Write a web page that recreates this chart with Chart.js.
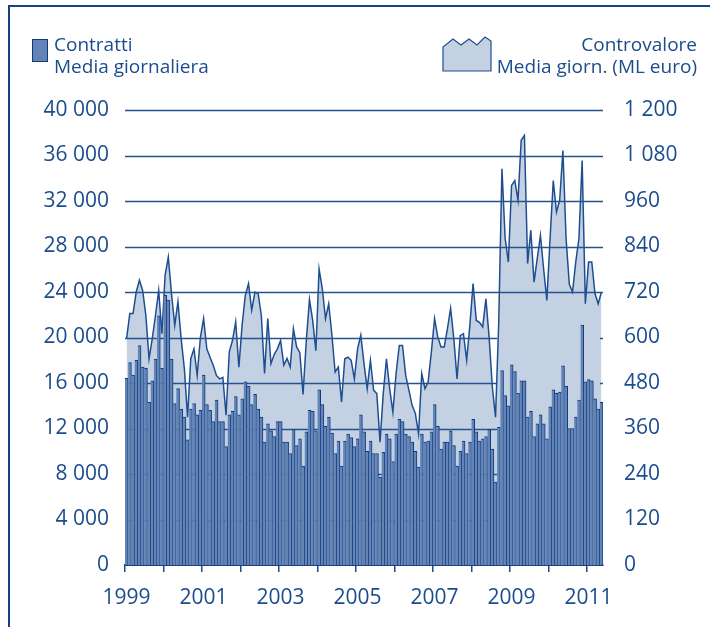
<!DOCTYPE html>
<html>
<head>
<meta charset="utf-8">
<script src="https://cdn.jsdelivr.net/npm/chart.js@4.4.1/dist/chart.umd.min.js"></script>
<style>
  body { margin: 0; background: #fff; }
  #wrap { position: relative; width: 710px; height: 627px; overflow: hidden; font-family: "Open Sans", sans-serif; color: #1b4c8d; }
  #frame { position: absolute; left: 8px; top: 5px; right: -5px; bottom: -5px; border-left: 2px solid #16427f; border-top: 2px solid #16427f; }
  canvas { position: absolute; left: 0; top: 2px; }
  .lg { position: absolute; font-size: 19px; line-height: 22px; }
  .sq { position: absolute; left: 32px; top: 39px; width: 14px; height: 21px; background: #6484b5; border: 1px solid #0d3b80; }
</style>
</head>
<body>
<div id="wrap">
  <div id="frame"></div>
  <canvas id="myChart" width="710" height="627"></canvas>
  <div class="sq"></div>
  <div class="lg" style="left:54px; top:33px;">Contratti<br>Media giornaliera</div>
  <svg style="position:absolute; left:441px; top:33px;" width="52" height="40">
    <polygon points="2,38 2,14 12,6 20,12 28,6 36,12 44,4 50,8 50,38" fill="#c3d1e3" stroke="#1f4e90" stroke-width="1.2"/>
  </svg>
  <div class="lg" style="right:13px; top:33px; text-align:right;">Controvalore<br>Media giorn. (ML euro)</div>
</div>
<script>
var startYear = 1999;
var monthCount = 149;
var yearTicks = ["1999", "2001", "2003", "2005", "2007", "2009", "2011"];

// contratti, media giornaliera (monthly, Jan 1999 - May 2011)
var contratti = [
    16400, 17800, 16700, 18000, 19300, 17400, 17300, 14300, 16200, 18100, 21900, 17300,
    23700, 23300, 18100, 14200, 15500, 13700, 13000, 11000, 13700, 14200, 13200, 13600,
    16700, 14100, 13600, 12600, 14500, 12600, 12600, 10400, 13200, 13500, 14800, 13200,
    14600, 16100, 15700, 14100, 15000, 13700, 13000, 10800, 12400, 11800, 11300, 12600,
    12600, 10800, 10800, 9800, 11900, 10500, 11100, 8700, 11700, 13600, 13500, 11800,
    15400, 14100, 12200, 13000, 11600, 9800, 10900, 8700, 10900, 11500, 11200, 10400,
    11100, 13200, 11700, 10000, 10900, 9800, 9800, 7700, 9900, 11500, 11100, 9100,
    11500, 12800, 12600, 11500, 11300, 10800, 10000, 8600, 11500, 10800, 10900, 11700,
    14100, 12200, 10200, 10800, 10800, 11800, 10500, 8700, 10000, 10900, 9800, 10800,
    12800, 11700, 10900, 11100, 11300, 11900, 10200, 7300, 12100, 17100, 14900, 14000,
    17600, 17000, 15100, 16200, 16200, 13000, 13500, 11300, 12400, 13200, 12400, 11100,
    13900, 15400, 15100, 15200, 17500, 15700, 12000, 12000, 13000, 14500, 21100, 16100,
    16300, 16200, 14600, 13700, 14300
];

// controvalore, media giornaliera (ML euro)
var controvalore = [
    597, 663, 663, 720, 751, 724, 658, 544, 597, 658, 724, 610,
    764, 812, 715, 632, 694, 597, 518, 390, 544, 570, 500, 600,
    650, 570, 548, 527, 500, 491, 495, 395, 562, 592, 641, 522,
    632, 711, 742, 672, 720, 716, 658, 505, 650, 531, 555, 570,
    592, 527, 545, 522, 623, 575, 560, 450, 590, 700, 645, 565,
    781, 729, 650, 689, 606, 509, 522, 430, 544, 548, 540, 491,
    570, 606, 531, 465, 540, 461, 452, 324, 452, 544, 465, 403,
    505, 579, 579, 500, 461, 421, 400, 346, 505, 465, 483, 562,
    650, 601, 575, 575, 623, 677, 597, 491, 605, 610, 540, 632,
    742, 645, 640, 628, 702, 601, 470, 390, 640, 1045, 861, 799,
    1001, 1014, 962, 1120, 1133, 795, 883, 746, 808, 869, 780, 698,
    860, 1014, 931, 962, 1093, 860, 740, 720, 799, 861, 1067, 689,
    799, 799, 716, 689, 720
];

var labels = [];
for (var i = 0; i < monthCount; i++) {
    labels.push((startYear + Math.floor(i / 12)) + "-" + (i % 12 + 1));
}

var navy = "#1b4c8d";
var gridNavy = "#24538f";

function spaced(v) {
    return String(v).replace(/\B(?=(\d{3})+(?!\d))/g, " ");
}

// horizontal grid drawn over the area, under the bars
var gridOverArea = {
    id: "gridOverArea",
    afterDatasetDraw: function (chart, args) {
        if (args.index !== 1) return;
        var c = chart.ctx, area = chart.chartArea;
        var x = chart.scales.x, y = chart.scales.y;
        var cut = (x.getPixelForValue(115) + x.getPixelForValue(116)) / 2;
        c.save();
        c.strokeStyle = gridNavy;
        c.lineWidth = 1.3;
        for (var v = 4000; v <= 40000; v += 4000) {
            var py = Math.round(y.getPixelForValue(v)) + 0.5;
            c.beginPath();
            if (v < 24000) {
                c.moveTo(area.left, py); c.lineTo(cut, py);
                c.moveTo(area.right - 3, py); c.lineTo(area.right, py);
            } else {
                c.moveTo(area.left, py); c.lineTo(area.right, py);
            }
            c.stroke();
        }
        c.restore();
    }
};

var ctx = document.getElementById("myChart").getContext("2d");

var comboChart = new Chart(ctx, {
    type: "bar",
    data: {
        labels: labels,
        datasets: [
            {
                type: "bar",
                data: contratti,
                yAxisID: "y",
                backgroundColor: "#6484b5",
                borderColor: "#0d3b80",
                borderWidth: { top: 1, right: 1, left: 0, bottom: 0 },
                borderSkipped: false,
                barPercentage: 1,
                categoryPercentage: 1,
                order: 1
            },
            {
                type: "line",
                data: controvalore,
                yAxisID: "y1",
                fill: "origin",
                backgroundColor: "#c3d1e3",
                borderColor: "#1f4e90",
                borderWidth: 1.5,
                pointRadius: 0,
                tension: 0,
                order: 2
            }
        ]
    },
    options: {
        responsive: false,
        animation: false,
        plugins: { legend: { display: false }, tooltip: { enabled: false } },
        layout: { padding: { top: 108, left: 0, right: 0, bottom: 0 } },
        scales: {
            x: {
                offset: true,
                grid: {
                    offset: true,
                    drawOnChartArea: false,
                    drawTicks: true,
                    tickLength: 7,
                    lineWidth: 1.5,
                    color: function (c) { return c.index % 12 === 0 ? navy : "rgba(0,0,0,0)"; }
                },
                border: { display: true, color: "#16427f", width: 2 },
                ticks: {
                    autoSkip: false,
                    maxRotation: 0,
                    padding: 13,
                    color: navy,
                    font: { family: "'Open Sans'", size: 21 },
                    callback: function (val, idx) {
                        return idx % 24 === 0 ? yearTicks[idx / 24] : "";
                    }
                },
                afterFit: function (s) { s.height = 64; }
            },
            y: {
                min: 0,
                max: 40000,
                grid: { display: false },
                border: { display: false },
                ticks: {
                    stepSize: 4000,
                    padding: 8,
                    color: navy,
                    font: { family: "'Open Sans'", size: 21 },
                    callback: function (v) { return spaced(v); }
                },
                afterFit: function (s) { s.width = 125; }
            },
            y1: {
                position: "right",
                min: 0,
                max: 1200,
                grid: { display: false },
                border: { display: false },
                ticks: {
                    stepSize: 120,
                    padding: 13,
                    color: navy,
                    font: { family: "'Open Sans'", size: 21 },
                    callback: function (v) { return spaced(v); }
                },
                afterFit: function (s) { s.width = 107; }
            }
        }
    },
    plugins: [gridOverArea]
});
</script>
</body>
</html>
